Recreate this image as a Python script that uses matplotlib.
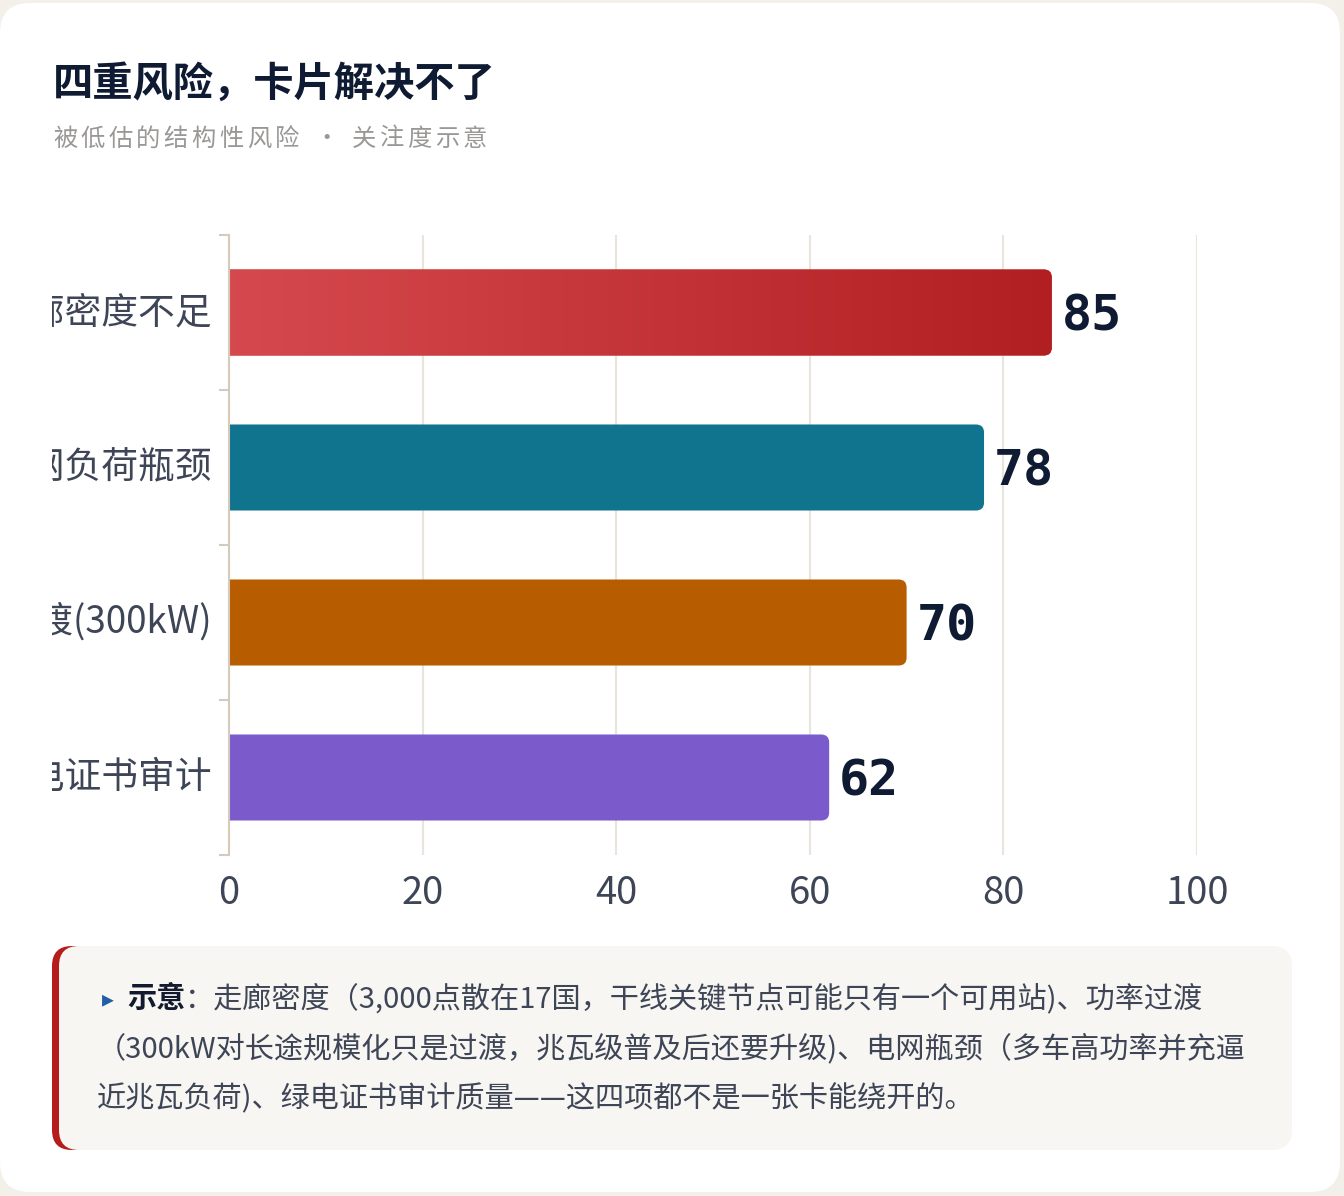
import numpy as np
import matplotlib
matplotlib.use("Agg")
import matplotlib.pyplot as plt
from matplotlib.patches import FancyBboxPatch
from matplotlib.colors import LinearSegmentedColormap
from matplotlib.transforms import Bbox, TransformedBbox

plt.rcParams['font.family'] = ['Noto Sans CJK SC', 'DejaVu Sans']

# data
categories = ['走廊密度不足', '电网负荷瓶颈', '功率过渡(300kW)', '绿电证书审计']
values = [85, 78, 70, 62]
bar_colors = ['#c43a3d', '#10748f', '#b85c00', '#7b5bcc']
gradient_colors = ['#d64a4f', '#b21f22']
xticks = [0, 20, 40, 60, 80, 100]

title = '四重风险，卡片解决不了'
subtitle_left = '被低估的结构性风险'
subtitle_right = '关注度示意'
note_label = '示意'
note_lines = [
    '：走廊密度（3,000点散在17国，干线关键节点可能只有一个可用站)、功率过渡',
    '（300kW对长途规模化只是过渡，兆瓦级普及后还要升级)、电网瓶颈（多车高功率并充逼',
    '近兆瓦负荷)、绿电证书审计质量——这四项都不是一张卡能绕开的。',
]

text_col = '#3d4556'
dark = '#0f1b33'

W, H = 1344, 1196
fig = plt.figure(figsize=(W / 100, H / 100), dpi=100)
fig.patch.set_facecolor('#f3f0ea')

# background / card layer in pixel coordinates
bg = fig.add_axes([0, 0, 1, 1], zorder=-1)
bg.set_xlim(0, W)
bg.set_ylim(H, 0)
bg.axis('off')
bg.add_patch(FancyBboxPatch((0, 3), 1340, 1189, boxstyle='round,pad=0,rounding_size=30',
                            facecolor='white', edgecolor='none'))

# title + subtitle
bg.text(53, 84, title, fontsize=29, fontweight='bold', color=dark, va='center', ha='left')
for i, ch in enumerate(subtitle_left):
    bg.text(53 + i * 27.7, 139, ch, fontsize=17.5, color='#9a9896', va='center', ha='left')
bg.text(327, 139, '·', fontsize=17.5, color='#9a9896', va='center', ha='center')
for i, ch in enumerate(subtitle_right):
    bg.text(352 + i * 27.7, 139, ch, fontsize=17.5, color='#9a9896', va='center', ha='left')

# note box with a red left border
bg.add_patch(FancyBboxPatch((52, 946), 80, 204, boxstyle='round,pad=0,rounding_size=20',
                            facecolor='#b71c1c', edgecolor='none'))
bg.add_patch(FancyBboxPatch((59, 946), 1233, 204, boxstyle='round,pad=0,rounding_size=20',
                            facecolor='#f8f6f2', edgecolor='none'))

r = fig.canvas.get_renderer()
bg.text(102, 999, '▸', fontsize=17, color='#1f5fa6', va='center', ha='left',
        family=['DejaVu Sans'])
t = bg.text(127, 999, note_label, fontsize=21, fontweight='bold', color='#111a2e',
            va='center', ha='left')
x_next = t.get_window_extent(r).x1
bg.text(x_next, 999, note_lines[0], fontsize=21, color=text_col, va='center', ha='left')
for k, line in enumerate(note_lines[1:]):
    bg.text(97, 1049 + 50 * k, line, fontsize=21, color=text_col, va='center', ha='left')

# main chart
ax = fig.add_axes([229 / W, (H - 855) / H, 968 / W, 620 / H])
ax.set_facecolor('none')
ypos = np.arange(len(categories))
bar_h = 0.555

# rounded bars: start a little left of 0 so the axes clips the left rounding
px_x = 968 / 100
px_y = 620 / 4
rad = 8 / px_x
aspect = (8 / px_y) / rad
for i, (v, c) in enumerate(zip(values, bar_colors)):
    p = FancyBboxPatch((-2, ypos[i] - bar_h / 2), v + 2, bar_h,
                       boxstyle=f'round,pad=0,rounding_size={rad}',
                       mutation_aspect=aspect, facecolor=c, edgecolor='none', zorder=2)
    ax.add_patch(p)
    if i == 0:
        cmap = LinearSegmentedColormap.from_list('g', gradient_colors)
        im = ax.imshow(np.linspace(0, 1, 256).reshape(1, -1), cmap=cmap, aspect='auto',
                       extent=(-2, v, ypos[i] + bar_h / 2, ypos[i] - bar_h / 2),
                       zorder=2.5, interpolation='bilinear')
        im.set_clip_path(p)
    ax.text(v + 1.0, ypos[i] + 18 / px_y, str(v), fontsize=36, fontweight='bold',
            family=['DejaVu Sans Mono'], color=dark, va='baseline', ha='left', zorder=4)

# category labels, clipped at the card padding like the original
clip = TransformedBbox(Bbox.from_extents(52 / W, 0, 1, 1), fig.transFigure)
for i, cat in enumerate(categories):
    lt = ax.text(-17 / 968, ypos[i], cat, transform=ax.get_yaxis_transform(),
                 fontsize=26.5, color=text_col, va='center', ha='right')
    lt.set_clip_on(True)
    lt.set_clip_box(clip)

ax.set_xlim(0, 100)
ax.set_ylim(len(categories) - 0.5, -0.5)
ax.set_xticks(xticks)
ax.set_xticklabels([str(x) for x in xticks])
ax.set_yticks(np.arange(len(categories) + 1) - 0.5)
ax.set_yticklabels([])
ax.tick_params(axis='x', length=0, pad=14, labelsize=27.5, labelcolor=text_col)
ax.tick_params(axis='y', length=7.5, width=1.5, color='#d5cbbd')
ax.grid(axis='x', color='#e9e5da', linewidth=1.5)
ax.set_axisbelow(True)
for s in ['top', 'right', 'bottom']:
    ax.spines[s].set_visible(False)
ax.spines['left'].set_color('#d5cbbd')
ax.spines['left'].set_linewidth(1.5)
ax.spines['left'].set_zorder(5)

fig.savefig('out.png', dpi=100, facecolor=fig.get_facecolor())
